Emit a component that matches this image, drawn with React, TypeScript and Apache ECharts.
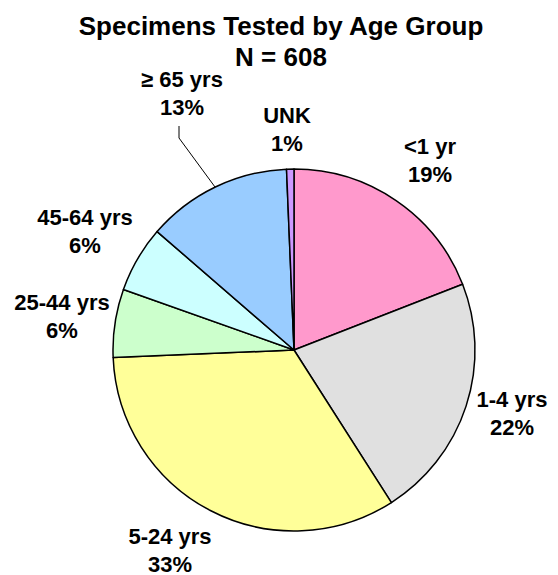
import React, { useEffect, useRef } from "react";
import * as echarts from "echarts";

const titleLines = ["Specimens Tested by Age Group", "N = 608"];
const categories = ["<1 yr", "1-4 yrs", "5-24 yrs", "25-44 yrs", "45-64 yrs", "≥ 65 yrs", "UNK"];
const counts = [116, 133, 203, 37, 36, 79, 4];
const colors = ["#FF99CC", "#E0E0E0", "#FFFF99", "#CCFFCC", "#CCFFFF", "#99CCFF", "#CC99FF"];
const labelPos: [number, number][] = [
  [430, 160],
  [512, 413],
  [170, 550],
  [62, 316],
  [85, 231],
  [182, 93],
  [287, 129],
];

const FONT = "'Liberation Sans', Arial, sans-serif";

export default function App() {
  const ref = useRef<HTMLDivElement>(null);
  useEffect(() => {
    document.body.style.margin = "0";
    const chart = echarts.init(ref.current!, null, { renderer: "svg" });
    chart.setOption({
      animation: false,
      backgroundColor: "#ffffff",
      title: {
        text: titleLines.join("\n"),
        left: 276,
        textAlign: "center",
        top: 5,
        textStyle: { fontFamily: FONT, fontSize: 26, fontWeight: "bold", lineHeight: 31, color: "#000" },
      },
      graphic: [
        {
          type: "polyline",
          shape: { points: [[179, 126], [179, 138], [215, 187]] },
          style: { stroke: "#000", lineWidth: 1, fill: "none" },
          z: 10,
        },
      ],
      series: [
        {
          type: "pie",
          center: [294, 350],
          radius: 181,
          startAngle: 90,
          clockwise: true,
          percentPrecision: 0,
          avoidLabelOverlap: false,
          data: categories.map((c, i) => ({ name: c, value: counts[i], itemStyle: { color: colors[i] } })),
          itemStyle: { borderColor: "#000", borderWidth: 1.5 },
          label: {
            show: true,
            formatter: "{b}\n{d}%",
            fontFamily: FONT,
            fontSize: 22,
            fontWeight: "bold",
            lineHeight: 28,
            color: "#000",
            align: "center",
            verticalAlign: "middle",
          },
          labelLine: { show: false },
          labelLayout: (p: any) => ({
            x: labelPos[p.dataIndex][0],
            y: labelPos[p.dataIndex][1],
            align: "center",
            verticalAlign: "middle",
          }),
          emphasis: { disabled: true },
        },
      ],
    });
    return () => chart.dispose();
  }, []);
  return <div ref={ref} style={{ width: 558, height: 575 }} />;
}
